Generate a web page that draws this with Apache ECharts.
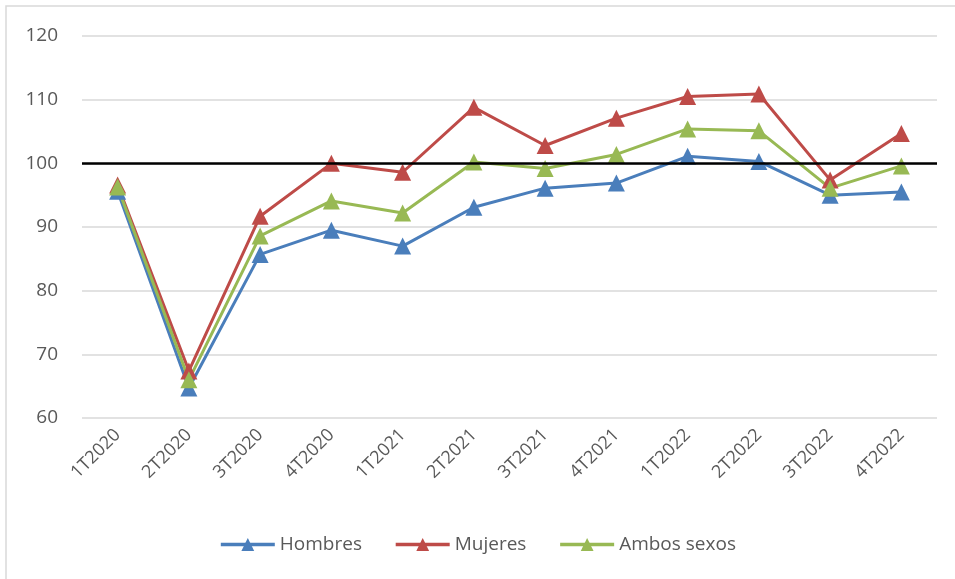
<!DOCTYPE html>
<html>
<head>
<meta charset="utf-8">
<script src="https://cdn.jsdelivr.net/npm/echarts@6/dist/echarts.min.js"></script>
<style>
html, body { margin: 0; padding: 0; background: #fff; }
#main { width: 955px; height: 579px; }
</style>
</head>
<body>
<div id="main"></div>
<script>
var categories = ['1T2020','2T2020','3T2020','4T2020','1T2021','2T2021','3T2021','4T2021','1T2022','2T2022','3T2022','4T2022'];
var hombres = [95.6, 64.7, 85.7, 89.5, 87.0, 93.1, 96.1, 96.9, 101.1, 100.3, 95.0, 95.5];
var mujeres = [96.6, 67.4, 91.7, 100.0, 98.6, 108.8, 102.8, 107.1, 110.5, 110.9, 97.4, 104.7];
var ambos = [96.3, 66.0, 88.6, 94.1, 92.2, 100.2, 99.2, 101.4, 105.4, 105.1, 96.1, 99.6];
var yTicks = { min: 60, max: 120, interval: 10 };
var refLevel = 100;

var myChart = echarts.init(document.getElementById('main'));
var font = '"Open Sans", "Liberation Sans", sans-serif';

function lineSeries(name, data, color) {
    return {
        name: name,
        type: 'line',
        data: data,
        symbol: 'triangle',
        symbolSize: 17,
        lineStyle: { width: 3, color: color },
        itemStyle: { color: color },
        z: 3
    };
}

var series = [
    lineSeries('Hombres', hombres, '#4a7ebb'),
    lineSeries('Mujeres', mujeres, '#be4b48'),
    lineSeries('Ambos sexos', ambos, '#98b954')
];
series[0].markLine = {
    silent: true,
    symbol: 'none',
    label: { show: false },
    lineStyle: { color: '#000', width: 2.5, type: 'solid' },
    data: [{ yAxis: refLevel }],
    z: 10
};

var option = {
    animation: false,
    graphic: [{
        type: 'rect',
        shape: { x: 6, y: 6, width: 960, height: 600 },
        style: { fill: 'none', stroke: '#d9d9d9', lineWidth: 1.5 },
        silent: true
    }],
    grid: { left: 82, right: 18, top: 36, bottom: 161 },
    legend: {
        bottom: 20,
        left: 'center',
        itemWidth: 54,
        itemHeight: 16,
        itemGap: 32,
        lineStyle: { width: 3.5 },
        textStyle: { fontFamily: font, fontSize: 19, color: '#595959' },
        data: ['Hombres', 'Mujeres', 'Ambos sexos']
    },
    xAxis: {
        type: 'category',
        data: categories,
        boundaryGap: true,
        axisLine: { show: false },
        axisTick: { show: false },
        axisLabel: {
            rotate: 45,
            margin: 14,
            interval: 0,
            fontFamily: font,
            fontSize: 18,
            color: '#595959'
        }
    },
    yAxis: {
        type: 'value',
        min: yTicks.min,
        max: yTicks.max,
        interval: yTicks.interval,
        axisLine: { show: false },
        axisTick: { show: false },
        axisLabel: { fontFamily: font, fontSize: 19, color: '#595959', margin: 24 },
        splitLine: { lineStyle: { color: '#d9d9d9', width: 1.5 } }
    },
    series: series
};

myChart.setOption(option);
</script>
</body>
</html>
